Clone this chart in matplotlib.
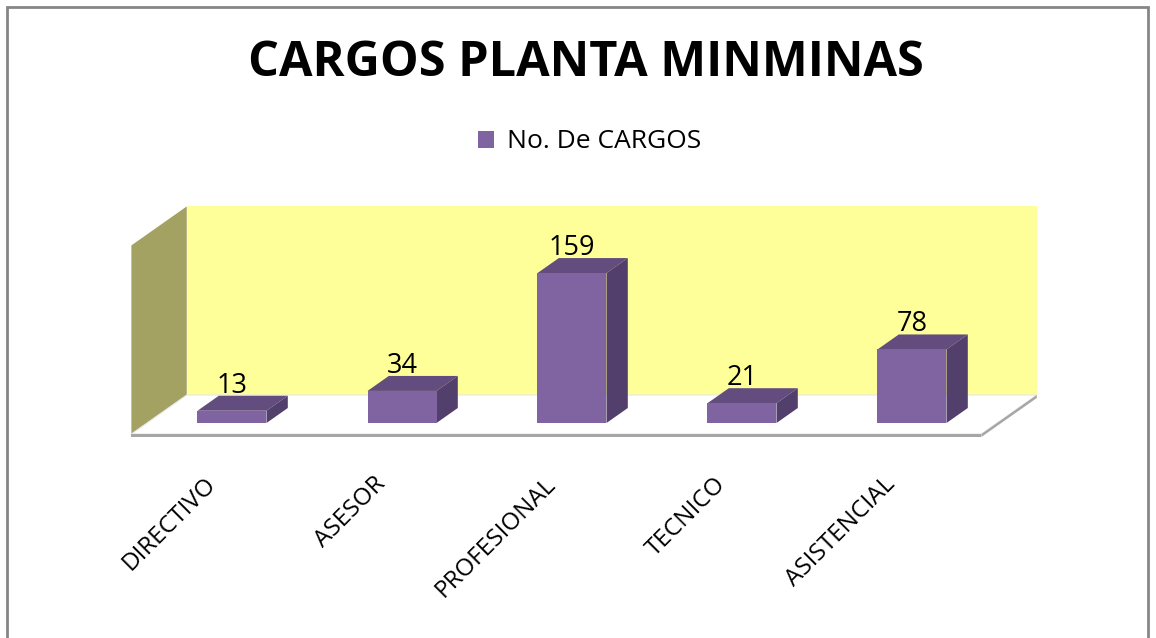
import matplotlib.pyplot as plt
from matplotlib.patches import Polygon, Rectangle

categories = ["DIRECTIVO", "ASESOR", "PROFESIONAL", "TECNICO", "ASISTENCIAL"]
cargos = [13, 34, 159, 21, 78]
series_name = "No. De CARGOS"
title = "CARGOS PLANTA MINMINAS"
y_max = 200

# pseudo 3D geometry (pixel based, figure is 1156x638 at 100 dpi)
PX_X = 170.0      # px per category
PX_Y = 0.943      # px per value unit
X0, Y0 = 232, 423  # pixel position of category 0, value 0
SLANT = 1.42      # horizontal px per vertical px of depth
BAR_W = 69 / PX_X
BAR_DEPTH = 15
FLOOR_FRONT = -11
WALL_DEPTH = 28

front_col = "#8064A2"
top_col = "#624D7E"
side_col = "#523F6B"


def depth(x, v, d):
    return (x + d * SLANT / PX_X, v + d / PX_Y)


fig = plt.figure(figsize=(11.56, 6.38), dpi=100)
ax = fig.add_axes([0, 0, 1, 1])
ax.set_xlim(-X0 / PX_X, (1156 - X0) / PX_X)
ax.set_ylim((Y0 - 638) / PX_Y, Y0 / PX_Y)
ax.axis("off")

n = len(categories)
left, right = -0.5, n - 0.5

# back wall
ax.add_patch(Polygon([depth(left, 0, WALL_DEPTH), depth(right, 0, WALL_DEPTH),
                      depth(right, y_max, WALL_DEPTH), depth(left, y_max, WALL_DEPTH)],
                     closed=True, facecolor="#FFFF99", edgecolor="none", zorder=1))
# side wall
ax.add_patch(Polygon([depth(left, 0, FLOOR_FRONT), depth(left, 0, WALL_DEPTH),
                      depth(left, y_max, WALL_DEPTH), depth(left, y_max, FLOOR_FRONT)],
                     closed=True, facecolor="#A4A263", edgecolor="none", zorder=1))
# floor slab
th = 3 / PX_Y
ax.add_patch(Polygon([depth(left, 0, FLOOR_FRONT), depth(right, 0, FLOOR_FRONT),
                      depth(right, 0, WALL_DEPTH), depth(left, 0, WALL_DEPTH)],
                     closed=True, facecolor="white", edgecolor="#E6E6E6", linewidth=0.8, zorder=2))
ax.add_patch(Polygon([depth(left, 0, FLOOR_FRONT), depth(right, 0, FLOOR_FRONT),
                      depth(right, -th, FLOOR_FRONT), depth(left, -th, FLOOR_FRONT)],
                     closed=True, facecolor="#A6A6A6", edgecolor="none", zorder=2))
ax.add_patch(Polygon([depth(right, 0, FLOOR_FRONT), depth(right, 0, WALL_DEPTH),
                      depth(right, -th, WALL_DEPTH), depth(right, -th, FLOOR_FRONT)],
                     closed=True, facecolor="#A6A6A6", edgecolor="none", zorder=2))

# bars
xs = list(range(n))
ax.bar(xs, cargos, width=BAR_W, color=front_col, zorder=4, label=series_name)
for x, v in zip(xs, cargos):
    xl, xr = x - BAR_W / 2, x + BAR_W / 2
    ax.add_patch(Polygon([(xl, v), (xr, v), depth(xr, v, BAR_DEPTH), depth(xl, v, BAR_DEPTH)],
                         closed=True, facecolor=top_col, edgecolor="none", zorder=3))
    ax.add_patch(Polygon([(xr, 0), (xr, v), depth(xr, v, BAR_DEPTH), depth(xr, 0, BAR_DEPTH)],
                         closed=True, facecolor=side_col, edgecolor="none", zorder=3))
    ax.text(x, v + (BAR_DEPTH + 3) / PX_Y, str(v), ha="center", va="baseline",
            fontsize=19.5, family="Open Sans", zorder=5)

# category labels
for x, lab in zip(xs, categories):
    ax.text(x - 20 / PX_X, (Y0 - 481) / PX_Y, lab, rotation=45, rotation_mode="anchor",
            ha="right", va="center", fontsize=17.5, family="Open Sans")

fig.text(586 / 1156, 1 - 64 / 638, title, ha="center", va="center",
         fontsize=35, fontweight="bold", family="Open Sans")

ax.legend(loc="center", bbox_to_anchor=(590 / 1156, 1 - 142 / 638),
          bbox_transform=fig.transFigure, frameon=False, handlelength=0.6,
          handleheight=0.6, handletextpad=0.5, prop={"family": "Open Sans", "size": 19})

# chart border
fig.patches.append(Rectangle((7 / 1156, -0.05), 1141 / 1156, 1.05 - 7 / 638,
                             transform=fig.transFigure, fill=False,
                             edgecolor="#868686", linewidth=2))

fig.savefig("out.png", dpi=100)
